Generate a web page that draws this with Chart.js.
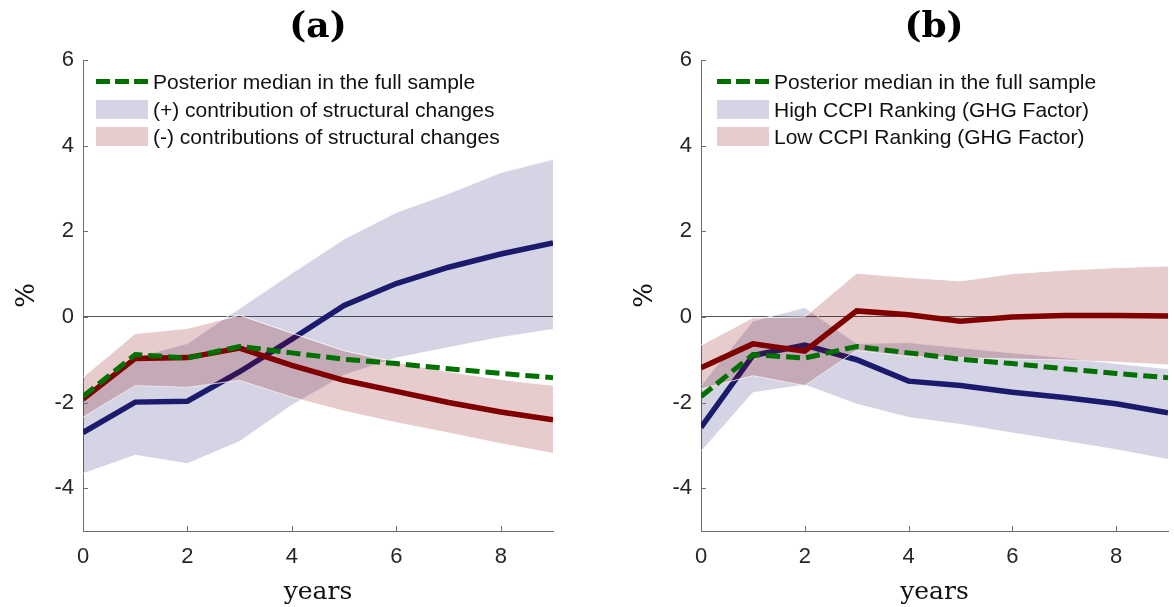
<!DOCTYPE html>
<html>
<head>
<meta charset="utf-8">
<script src="https://cdn.jsdelivr.net/npm/chart.js@4.4.0/dist/chart.umd.min.js"></script>
<style>
  html, body { margin: 0; padding: 0; background: #fff; }
  #wrap { position: relative; width: 1174px; height: 607px; overflow: hidden; }
  canvas { position: absolute; top: 0; }
  .title { position: absolute; top: 3px; width: 120px; margin-left: -60px; text-align: center;
           font-family: "DejaVu Serif", serif; font-weight: bold; font-size: 36px; color: #000; }
  .leg { position: absolute; font-family: "Liberation Sans", Arial, sans-serif; font-size: 21px; color: #111; }
  .row { position: absolute; left: 0; height: 28px; white-space: nowrap; }
  .row .key { position: absolute; left: 0; top: 4px; width: 52px; height: 19px; }
  .row span { position: absolute; left: 57px; top: 1px; line-height: 26px; }
</style>
</head>
<body>
<div id="wrap">
  <canvas id="chartA" width="570" height="607" style="left:0px"></canvas>
  <canvas id="chartB" width="556" height="607" style="left:618px"></canvas>
  <div class="title" style="left:318px">(a)</div>
  <div class="title" style="left:934px">(b)</div>
  <div class="leg" id="legA" style="left:96px; top:68px"></div>
  <div class="leg" id="legB" style="left:717px; top:68px"></div>
</div>
<script>
// horizon in years
const years = [0, 1, 2, 3, 4, 5, 6, 7, 8, 9];

// posterior median in the full sample (same in both panels)
const medianFull = [-1.86, -0.88, -0.96, -0.69, -0.84, -0.99, -1.09, -1.21, -1.32, -1.42];

// panel (a): (+) contribution of structural changes
const plusMedian = [-2.70, -1.99, -1.97, -1.28, -0.52, 0.27, 0.78, 1.16, 1.47, 1.73];
const plusUpper  = [-1.85, -0.95, -0.62, 0.20, 1.02, 1.82, 2.44, 2.88, 3.37, 3.68];
const plusLower  = [-3.65, -3.22, -3.42, -2.90, -2.05, -1.35, -0.95, -0.70, -0.47, -0.28];

// panel (a): (-) contributions of structural changes
const minusMedian = [-1.92, -0.97, -0.95, -0.73, -1.13, -1.48, -1.74, -2.00, -2.22, -2.40];
const minusUpper  = [-1.41, -0.39, -0.27, 0.04, -0.38, -0.79, -1.06, -1.28, -1.46, -1.60];
const minusLower  = [-2.34, -1.60, -1.64, -1.48, -1.87, -2.19, -2.46, -2.70, -2.95, -3.18];

// panel (b): High CCPI ranking
const highMedian = [-2.58, -0.90, -0.66, -1.00, -1.50, -1.60, -1.76, -1.88, -2.03, -2.24];
const highUpper  = [-1.60, -0.10, 0.22, -0.62, -0.60, -0.72, -0.84, -0.95, -1.09, -1.21];
const highLower  = [-3.13, -1.76, -1.58, -2.03, -2.34, -2.50, -2.70, -2.89, -3.09, -3.32];

// panel (b): Low CCPI ranking
const lowMedian = [-1.19, -0.63, -0.80, 0.14, 0.05, -0.10, 0.00, 0.03, 0.03, 0.02];
const lowUpper  = [-0.66, -0.02, 0.00, 1.02, 0.92, 0.84, 1.01, 1.09, 1.15, 1.19];
const lowLower  = [-1.68, -1.37, -1.60, -0.78, -0.92, -0.95, -0.98, -1.00, -1.05, -1.11];

const xTicks = [0, 2, 4, 6, 8];
const yTicks = [-4, -2, 0, 2, 4, 6];

const legendA = ['Posterior median in the full sample', '(+) contribution of structural changes', '(-) contributions of structural changes'];
const legendB = ['Posterior median in the full sample', 'High CCPI Ranking (GHG Factor)', 'Low CCPI Ranking (GHG Factor)'];

const GREEN = '#007000';
const NAVY = '#1b1b6e';
const MAROON = '#800000';
const NAVY_BAND = 'rgba(27,27,110,0.19)';
const MAROON_BAND = 'rgba(128,0,0,0.2)';
const EDGE = 'rgba(255,255,255,0.85)';
const AXIS = '#6e6e6e';

const pts = arr => years.map((x, i) => ({ x, y: arr[i] }));

// MATLAB-style ticks pointing into the axes
const inwardTicks = {
  id: 'inwardTicks',
  afterDraw(chart) {
    const { ctx, chartArea: a, scales: { x, y } } = chart;
    ctx.save();
    ctx.strokeStyle = AXIS;
    ctx.lineWidth = 1;
    xTicks.forEach(v => {
      const px = Math.round(x.getPixelForValue(v)) + 0.5;
      ctx.beginPath(); ctx.moveTo(px, a.bottom); ctx.lineTo(px, a.bottom - 5); ctx.stroke();
    });
    yTicks.forEach(v => {
      const py = Math.round(y.getPixelForValue(v)) + 0.5;
      ctx.beginPath(); ctx.moveTo(a.left, py); ctx.lineTo(a.left + 5, py); ctx.stroke();
    });
    ctx.restore();
  }
};

function makePanel(id, padRight, blue, blueUp, blueLo, red, redUp, redLo) {
  const line = (data, color, extra) => Object.assign({
    data: pts(data), borderColor: color, borderWidth: 5.5, pointRadius: 0, tension: 0, fill: false,
    borderJoin: 'round'
  }, extra || {});
  const band = (data, fill, color) => ({
    data: pts(data), borderColor: EDGE, borderWidth: 1, pointRadius: 0, tension: 0,
    fill: fill, backgroundColor: color
  });
  return new Chart(document.getElementById(id), {
    type: 'line',
    data: {
      datasets: [
        line(medianFull, GREEN, { borderWidth: 5, borderDash: [14, 6], borderCapStyle: 'butt' }),
        line(red, MAROON),
        band(redUp, '+1', MAROON_BAND),
        band(redLo, false),
        line(blue, NAVY),
        band(blueUp, '+1', NAVY_BAND),
        band(blueLo, false)
      ]
    },
    options: {
      responsive: false,
      animation: false,
      devicePixelRatio: 1,
      layout: { padding: { top: 60, right: padRight, bottom: 0, left: 0 } },
      plugins: { legend: { display: false }, tooltip: { enabled: false } },
      scales: {
        x: {
          type: 'linear', min: 0, max: 9,
          afterBuildTicks: s => { s.ticks = xTicks.map(v => ({ value: v })); },
          afterFit: s => { s.height = 76; },
          grid: { display: false, drawTicks: false },
          border: { display: true, color: AXIS, width: 1 },
          ticks: { padding: 13, color: '#262626', font: { family: 'Liberation Sans', size: 22 } },
          title: { display: true, text: 'years', color: '#111', padding: { top: 3, bottom: 0 },
                   font: { family: 'DejaVu Serif', size: 25 } }
        },
        y: {
          type: 'linear', min: -5, max: 6,
          afterBuildTicks: s => { s.ticks = yTicks.map(v => ({ value: v })); },
          afterFit: s => { s.width = 83; },
          grid: { drawTicks: false, lineWidth: 1,
                  color: c => (c.tick && c.tick.value === 0) ? '#555555' : 'rgba(0,0,0,0)' },
          border: { display: true, color: AXIS, width: 1 },
          ticks: { padding: 9, color: '#262626', font: { family: 'Liberation Sans', size: 22 } },
          title: { display: true, text: '%', color: '#111', padding: { top: 12, bottom: 0 },
                   font: { family: 'DejaVu Serif', size: 26 } }
        }
      }
    },
    plugins: [inwardTicks]
  });
}

makePanel('chartA', 17, plusMedian, plusUpper, plusLower, minusMedian, minusUpper, minusLower);
makePanel('chartB', 6, highMedian, highUpper, highLower, lowMedian, lowUpper, lowLower);

// legends drawn over the plot area, like the MATLAB legend without a box
function buildLegend(id, labels) {
  const el = document.getElementById(id);
  const keys = [
    '<svg class="key" width="52" height="19"><line x1="0" y1="9.5" x2="52" y2="9.5" stroke="' + GREEN +
      '" stroke-width="5" stroke-dasharray="14,5"/></svg>',
    '<div class="key" style="background:' + NAVY_BAND + '"></div>',
    '<div class="key" style="background:' + MAROON_BAND + '"></div>'
  ];
  el.innerHTML = labels.map((t, i) =>
    '<div class="row" style="top:' + (i * 27.6) + 'px">' + keys[i] + '<span>' + t + '</span></div>'
  ).join('');
}
buildLegend('legA', legendA);
buildLegend('legB', legendB);
</script>
</body>
</html>
